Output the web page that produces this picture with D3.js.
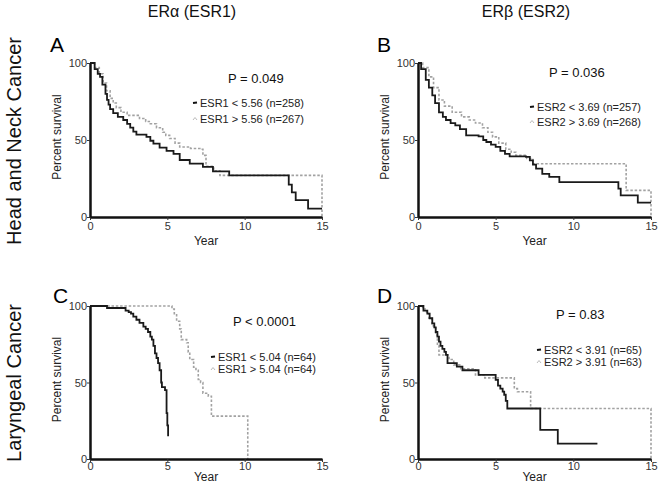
<!DOCTYPE html>
<html><head><meta charset="utf-8">
<script src="https://cdn.jsdelivr.net/npm/d3@7"></script>
<style>
body{margin:0;background:#fff;}
text{font-family:"Liberation Sans",Arial,Helvetica,sans-serif;}
</style></head>
<body><svg id="c" width="658" height="489"></svg>
<script>
// ---- data ----
const colTitles = ["ERα (ESR1)", "ERβ (ESR2)"];
const rowTitles = ["Head and Neck Cancer", "Laryngeal Cancer"];
const panelLetters = ["A", "B", "C", "D"];
const pValues = ["P = 0.049", "P = 0.036", "P < 0.0001", "P = 0.83"];
const legendLow = ["ESR1 < 5.56 (n=258)", "ESR2 < 3.69 (n=257)", "ESR1 < 5.04 (n=64)", "ESR2 < 3.91 (n=65)"];
const legendHigh = ["ESR1 > 5.56 (n=267)", "ESR2 > 3.69 (n=268)", "ESR1 > 5.04 (n=64)", "ESR2 > 3.91 (n=63)"];
const xTicks = [0, 5, 10, 15];
const yTicks = [0, 50, 100];

const aLowT = [0,0.3,0.5,0.65,0.8,1.0,1.1,1.2,1.3,1.5,1.8,2.15,2.4,2.6,2.8,3.0,3.65,3.9,4.1,4.5,4.95,5.4,5.8,6.45,7.3,7.95,9.0,12.85,13.05,13.3,14.1,15];
const aLowS = [100,96,93,91,86,80,76,73,70,67.5,65,63,60.5,58,55.5,53.5,52,49.5,47.6,45,43,41,37,34.6,32.5,29.6,27,21,16,11,5.4,5.4];
const aHighT = [0,0.3,0.6,0.85,1.07,1.3,1.5,1.7,2.0,2.4,3.2,3.6,3.9,4.3,4.7,4.9,5.15,5.5,5.8,6.5,7.1,7.3,7.5,8.0,8.4,15];
const aHighS = [100,97,93,87,82,77,74,71,68,66,64,62,60.6,58,55,53,51,48,45.5,44.5,44,40,33,30,27,0];

const bLowT = [0,0.2,0.5,0.7,0.92,1.1,1.35,1.6,1.8,2.1,2.4,2.7,3.1,3.9,4.2,4.4,4.7,5.0,5.3,5.6,5.9,6.95,7.2,7.4,7.6,8.0,8.45,9.1,12.9,13.05,14.15,15];
const bLowS = [100,96,89,84,79,74,68,65,63,61,59.5,57,53,52.4,50,48.7,47,45.5,43,41,39.4,39,36.8,34,31.4,28,26,22.7,18.4,14,9.3,9.3];
const bHighT = [0,0.3,0.7,1.0,1.35,1.7,2.2,2.8,3.3,3.7,4.15,4.5,4.8,5.2,5.65,6.0,6.3,7.0,7.4,13.4,15];
const bHighS = [100,97,91,84,76,72,68,65,63,61,58,55,52,48,44,42,40,38,34.6,17.3,0];

const cLowT = [0,1.1,2.3,2.5,2.65,2.8,3.0,3.2,3.45,3.6,3.75,3.9,4.0,4.1,4.2,4.3,4.4,4.5,4.6,4.65,4.85,4.95,5.0,5.05];
const cLowS = [100,98.7,97,96,95,93,91,89,86.5,85,83,80,78,74,69,66,62.6,58,50,47,45,30,22,14.8];
const cHighT = [0,5.3,5.45,5.6,5.8,5.9,6.25,6.35,6.45,6.7,6.85,7.0,7.15,7.3,7.65,7.85,10.2];
const cHighS = [100,98,95,90,85,78,76,70,65,60,58,52,50,43,41,28,0];

const dLowT = [0,0.35,0.6,0.75,0.92,1.05,1.14,1.25,1.35,1.45,1.57,1.7,1.8,1.9,2.5,2.86,3.9,5.0,5.15,5.3,5.45,5.55,5.65,5.75,7.87,9.0,11.55];
const dLowS = [100,97,95,92,88.7,86,83,80,76.7,74,72,70,68,62.6,60.4,58,55,51.7,48,46,44,42,38,33,19,10,10];
const dHighT = [0,0.3,0.55,0.7,0.9,1.14,1.25,1.35,2.0,2.3,2.75,3.7,4.3,6.2,6.4,7.25,15];
const dHighS = [100,98,95,92,87,81,74,68,65,61.5,59,55,53,46,44,33,0];

const lowT = [aLowT, bLowT, cLowT, dLowT], lowS = [aLowS, bLowS, cLowS, dLowS];
const highT = [aHighT, bHighT, cHighT, dHighT], highS = [aHighS, bHighS, cHighS, dHighS];

// ---- layout ----
const panels = [
  {x0:90, x1:322, y0:63, y1:217, letter:[50,52], p:[228,83], leg:[200,107,123], tp:2, yr:28},
  {x0:418, x1:651, y0:63, y1:217, letter:[377,52], p:[549,77], leg:[537,111,126], tp:2, yr:28},
  {x0:90, x1:322, y0:306, y1:459, letter:[53,303], p:[233,326], leg:[218,361,373], tp:0, yr:22},
  {x0:418, x1:651, y0:306, y1:459, letter:[377,303], p:[556,319], leg:[544,354,366], tp:0, yr:22}
];

const svg = d3.select("#c");

svg.selectAll(".ct").data(colTitles).join("text")
  .attr("x", (d,i)=> i===0?192:526).attr("y",17).attr("text-anchor","middle")
  .attr("font-size",16).attr("fill","#111").text(d=>d);

svg.selectAll(".rt").data(rowTitles).join("text")
  .attr("transform",(d,i)=>`translate(21,${i===0?141:383}) rotate(-90)`)
  .attr("text-anchor","middle").attr("font-size",20).attr("fill","#111").text(d=>d);

panels.forEach((p,i)=>{
  const x = d3.scaleLinear().domain([0,15]).range([p.x0,p.x1]);
  const y = d3.scaleLinear().domain([0,100]).range([p.y1,p.y0]);
  const g = svg.append("g");

  const line = d3.line().x(d=>x(d[0])).y(d=>y(d[1])).curve(d3.curveStepAfter);
  const hi = highT[i].map((t,k)=>[t, highS[i][k]]);
  const lo = lowT[i].map((t,k)=>[t, lowS[i][k]]);
  g.append("path").attr("d", line(hi)).attr("fill","none")
    .attr("stroke","#a2a2a2").attr("stroke-width",1.6).attr("stroke-dasharray","2.5,1.8");
  g.append("path").attr("d", line(lo)).attr("fill","none")
    .attr("stroke","#1a1a1a").attr("stroke-width",1.8);

  const ax = g.append("g").attr("transform",`translate(0,${p.y1})`)
    .call(d3.axisBottom(x).tickValues(xTicks).tickSize(3).tickSizeOuter(0).tickPadding(p.tp));
  const ay = g.append("g").attr("transform",`translate(${p.x0},0)`)
    .call(d3.axisLeft(y).tickValues(yTicks).tickSize(3).tickSizeOuter(0).tickPadding(0));
  [ax,ay].forEach(a=>{
    a.select(".domain").attr("stroke","#111").attr("stroke-width",2.5);
    a.selectAll(".tick line").attr("stroke","#333").attr("stroke-width",1);
    a.selectAll(".tick text").attr("font-size",11).attr("fill","#333")
      .attr("font-family","'Liberation Sans',Arial,sans-serif");
  });
  ay.selectAll(".tick text").attr("dy","0.35em");

  g.append("text").attr("x",(p.x0+p.x1)/2).attr("y",p.y1+p.yr).attr("text-anchor","middle")
    .attr("font-size",12).attr("fill","#222").text("Year");
  g.append("text").attr("transform",`translate(${p.x0-29},${(p.y0+p.y1)/2-3}) rotate(-90)`)
    .attr("text-anchor","middle").attr("font-size",12).attr("fill","#222").text("Percent survival");

  g.append("text").attr("x",p.letter[0]).attr("y",p.letter[1]).attr("font-size",21)
    .attr("fill","#000").text(panelLetters[i]);
  g.append("text").attr("x",p.p[0]).attr("y",p.p[1]).attr("font-size",13)
    .attr("fill","#111").text(pValues[i]);

  g.append("text").attr("x",p.leg[0]).attr("y",p.leg[1]).attr("font-size",11)
    .attr("fill","#222").text(legendLow[i]);
  g.append("text").attr("x",p.leg[0]).attr("y",p.leg[2]).attr("font-size",11)
    .attr("fill","#222").text(legendHigh[i]);
  g.append("line").attr("x1",p.leg[0]-7).attr("x2",p.leg[0]-3)
    .attr("y1",p.leg[1]-4).attr("y2",p.leg[1]-4.5).attr("stroke","#111").attr("stroke-width",1.8);
  g.append("path").attr("d",`M${p.leg[0]-7},${p.leg[2]-3}L${p.leg[0]-5},${p.leg[2]-5.5}L${p.leg[0]-3},${p.leg[2]-3}`)
    .attr("fill","none").attr("stroke","#bbb").attr("stroke-width",1);
});
</script></body></html>
